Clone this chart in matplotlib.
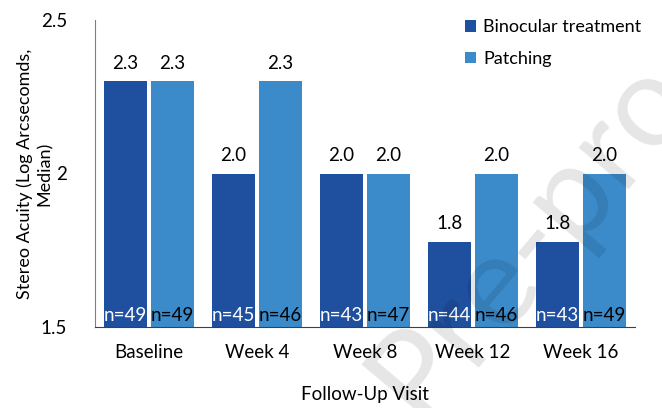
import numpy as np
import matplotlib
matplotlib.use("Agg")
import matplotlib.pyplot as plt

plt.rcParams['font.family'] = ['Lato', 'DejaVu Sans']

visits = ['Baseline', 'Week 4', 'Week 8', 'Week 12', 'Week 16']
binocular = [np.log10(200), np.log10(100), np.log10(100), np.log10(60), np.log10(60)]
patching = [np.log10(200), np.log10(200), np.log10(100), np.log10(100), np.log10(100)]
n_binocular = [49, 45, 43, 44, 43]
n_patching = [49, 46, 47, 46, 49]

dark = '#1F4F9F'
light = '#3B8BCB'
fs = 13.5

fig = plt.figure(figsize=(6.62, 4.08), dpi=100)
ax = fig.add_axes([95 / 662, 1 - 327 / 408, 540 / 662, 307 / 408])

x = np.arange(len(visits))
w = 0.4
off = 0.217
ax.bar(x - off, np.array(binocular) - 1.5, w, bottom=1.5, color=dark, label='Binocular treatment')
ax.bar(x + off, np.array(patching) - 1.5, w, bottom=1.5, color=light, label='Patching')

for i in range(len(visits)):
    ax.text(x[i] - off, binocular[i] + 0.03, f'{binocular[i]:.1f}', ha='center', va='bottom', fontsize=fs)
    ax.text(x[i] + off, patching[i] + 0.03, f'{patching[i]:.1f}', ha='center', va='bottom', fontsize=fs)
    ax.text(x[i] - off, 1.51, f'n={n_binocular[i]}', ha='center', va='bottom', fontsize=fs, color='white')
    ax.text(x[i] + off, 1.51, f'n={n_patching[i]}', ha='center', va='bottom', fontsize=fs, color='black')

ax.set_xlim(-0.5, len(visits) - 0.5)
ax.set_ylim(1.5, 2.5)
ax.set_yticks([1.5, 2, 2.5])
ax.set_yticklabels(['1.5', '2', '2.5'])
ax.set_xticks(x)
ax.set_xticklabels(visits)
ax.tick_params(axis='both', length=0, labelsize=fs)
ax.tick_params(axis='y', pad=20)
ax.tick_params(axis='x', pad=12)
for s in ['top', 'right']:
    ax.spines[s].set_visible(False)
ax.spines['left'].set_color('#808080')
ax.spines['bottom'].set_color('#404040')

ax.set_xlabel('Follow-Up Visit', fontsize=fs, labelpad=18)
ax.set_ylabel('Stereo Acuity (Log Arcsecomds,\nMedian)', fontsize=13, linespacing=1.25)
ax.yaxis.set_label_coords(-0.078, 0.5)

ax.legend(loc='upper left', bbox_to_anchor=(0.655, 1.055), frameon=False, fontsize=13,
          handlelength=0.6, handleheight=0.6, handletextpad=0.4, labelspacing=0.85)

# faint watermark from the source document
fig.text(0.635, -0.04, 'Pre-proof', fontsize=92, rotation=50, color='#000000', alpha=0.1,
         ha='left', va='baseline', rotation_mode='anchor', zorder=10)

fig.savefig('out.png', dpi=100)
